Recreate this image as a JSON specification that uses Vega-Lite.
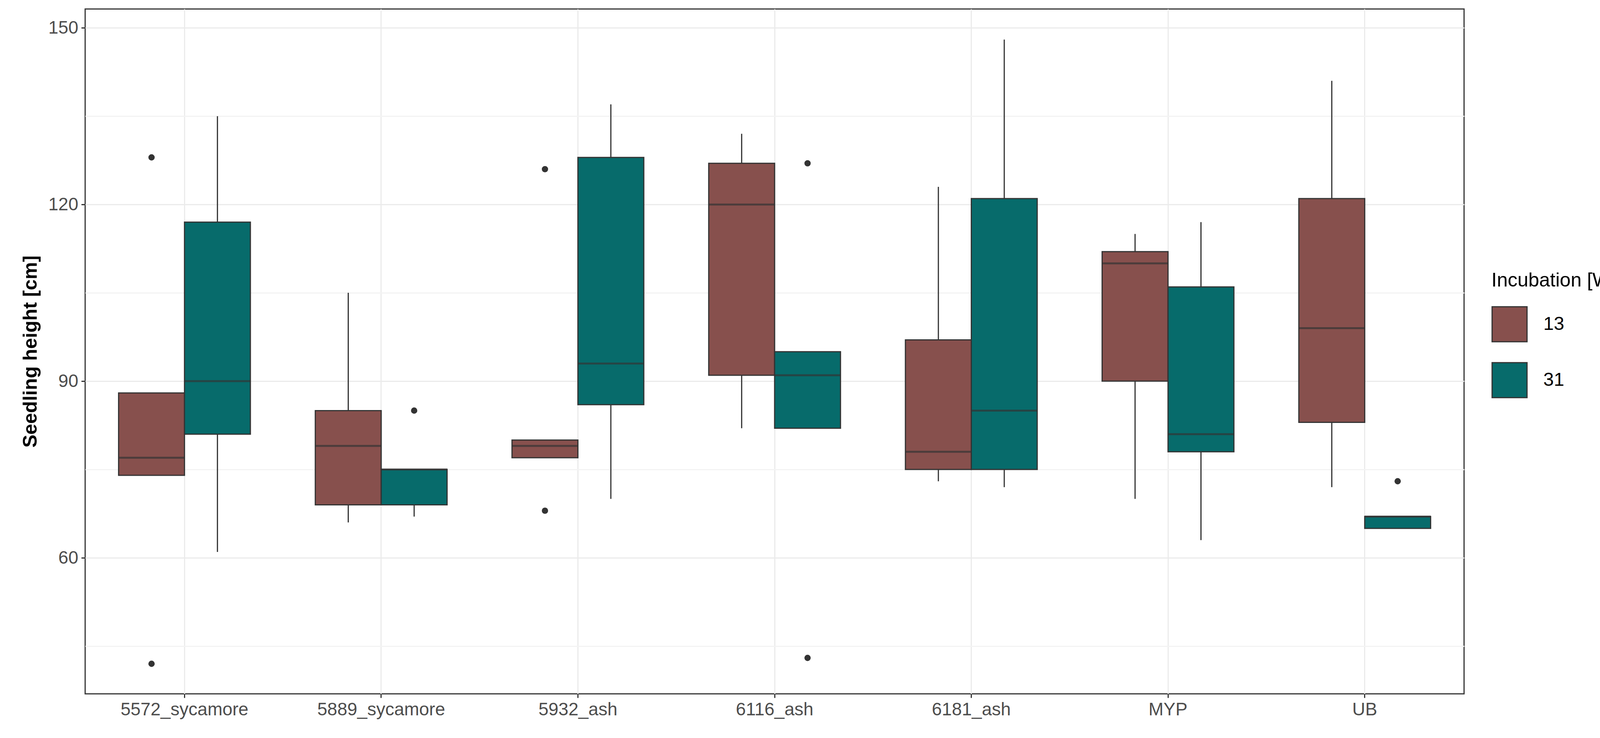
{
  "$schema": "https://vega.github.io/schema/vega-lite/v6.json",
  "width": 3530,
  "height": 1752,
  "autosize": "none",
  "padding": {"left": 218, "top": 23, "right": 684, "bottom": 113},
  "background": "white",
  "config": {
    "view": {"stroke": "#333333", "strokeWidth": 3},
    "font": "Liberation Sans",
    "axis": {"labelFontSize": 46, "labelLimit": 0, "labelColor": "#4d4d4d", "tickColor": "#333333", "tickSize": 10, "tickWidth": 3, "domain": false, "gridColor": "#ebebeb", "gridWidth": 3, "labelPadding": 8}
  },
  "datasets": {
    "boxes": [
      {"site": "5572_sycamore", "grp": "13", "lo": 74, "q1": 74, "med": 77, "q3": 88, "hi": 88},
      {"site": "5572_sycamore", "grp": "31", "lo": 61, "q1": 81, "med": 90, "q3": 117, "hi": 135},
      {"site": "5889_sycamore", "grp": "13", "lo": 66, "q1": 69, "med": 79, "q3": 85, "hi": 105},
      {"site": "5889_sycamore", "grp": "31", "lo": 67, "q1": 69, "med": 75, "q3": 75, "hi": 75},
      {"site": "5932_ash", "grp": "13", "lo": 77, "q1": 77, "med": 79, "q3": 80, "hi": 80},
      {"site": "5932_ash", "grp": "31", "lo": 70, "q1": 86, "med": 93, "q3": 128, "hi": 137},
      {"site": "6116_ash", "grp": "13", "lo": 82, "q1": 91, "med": 120, "q3": 127, "hi": 132},
      {"site": "6116_ash", "grp": "31", "lo": 82, "q1": 82, "med": 91, "q3": 95, "hi": 95},
      {"site": "6181_ash", "grp": "13", "lo": 73, "q1": 75, "med": 78, "q3": 97, "hi": 123},
      {"site": "6181_ash", "grp": "31", "lo": 72, "q1": 75, "med": 85, "q3": 121, "hi": 148},
      {"site": "MYP", "grp": "13", "lo": 70, "q1": 90, "med": 110, "q3": 112, "hi": 115},
      {"site": "MYP", "grp": "31", "lo": 63, "q1": 78, "med": 81, "q3": 106, "hi": 117},
      {"site": "UB", "grp": "13", "lo": 72, "q1": 83, "med": 99, "q3": 121, "hi": 141},
      {"site": "UB", "grp": "31", "lo": 65, "q1": 65, "med": 67, "q3": 67, "hi": 67}
    ],
    "outliers": [
      {"site": "5572_sycamore", "grp": "13", "v": 128},
      {"site": "5572_sycamore", "grp": "13", "v": 42},
      {"site": "5889_sycamore", "grp": "31", "v": 85},
      {"site": "5932_ash", "grp": "13", "v": 126},
      {"site": "5932_ash", "grp": "13", "v": 68},
      {"site": "6116_ash", "grp": "31", "v": 127},
      {"site": "6116_ash", "grp": "31", "v": 43},
      {"site": "UB", "grp": "31", "v": 73}
    ]
  },
  "encoding": {
    "x": {"field": "site", "type": "nominal", "title": null, "scale": {"paddingInner": 0.33, "paddingOuter": 0.17}, "axis": {"labelAngle": 0, "grid": true}},
    "xOffset": {"field": "grp", "type": "nominal", "scale": {"paddingInner": 0, "paddingOuter": 0}}
  },
  "layer": [
    {
      "data": {"name": "boxes"},
      "mark": {"type": "rule", "color": "#333333", "strokeWidth": 3},
      "encoding": {
        "y": {"field": "lo", "type": "quantitative", "title": "Seedling height [cm]",
          "scale": {"domain": [36.9, 153.2], "nice": false, "zero": false},
          "axis": {"values": [45, 60, 75, 90, 105, 120, 135, 150], "labelExpr": "datum.value % 30 == 0 ? datum.label : ''",
            "tickColor": {"condition": {"test": "datum.value % 30 == 0", "value": "#333333"}, "value": "transparent"},
            "gridColor": {"condition": {"test": "datum.value % 30 == 0", "value": "#ebebeb"}, "value": "#f3f3f3"},
            "titleFontSize": 50, "titleFontWeight": "bold", "titleColor": "black", "titlePadding": 20}},
        "y2": {"field": "hi"}
      }
    },
    {
      "data": {"name": "boxes"},
      "mark": {"type": "bar", "stroke": "#333333", "strokeWidth": 3},
      "encoding": {
        "y": {"field": "q1", "type": "quantitative"},
        "y2": {"field": "q3"},
        "color": {"field": "grp", "type": "nominal", "title": "Incubation [Weeks]",
          "scale": {"domain": ["13", "31"], "range": ["#87504d", "#076b6b"]},
          "legend": {"titleFontSize": 50, "titleFontWeight": "normal", "titleColor": "black", "labelFontSize": 48, "labelColor": "black",
            "titleLimit": 0, "labelLimit": 0,
            "symbolType": "square", "symbolSize": 8000, "symbolStrokeColor": "#333333", "symbolStrokeWidth": 3,
            "rowPadding": 40, "labelOffset": 40, "orient": "none", "legendX": 3600, "legendY": 670, "direction": "vertical", "titlePadding": 40}}
      }
    },
    {
      "data": {"name": "boxes"},
      "mark": {"type": "tick", "color": "#333333", "thickness": 5, "size": 170},
      "encoding": {"y": {"field": "med", "type": "quantitative"}}
    },
    {
      "data": {"name": "outliers"},
      "mark": {"type": "circle", "color": "#333333", "size": 260, "opacity": 1},
      "encoding": {"y": {"field": "v", "type": "quantitative"}}
    }
  ]
}
